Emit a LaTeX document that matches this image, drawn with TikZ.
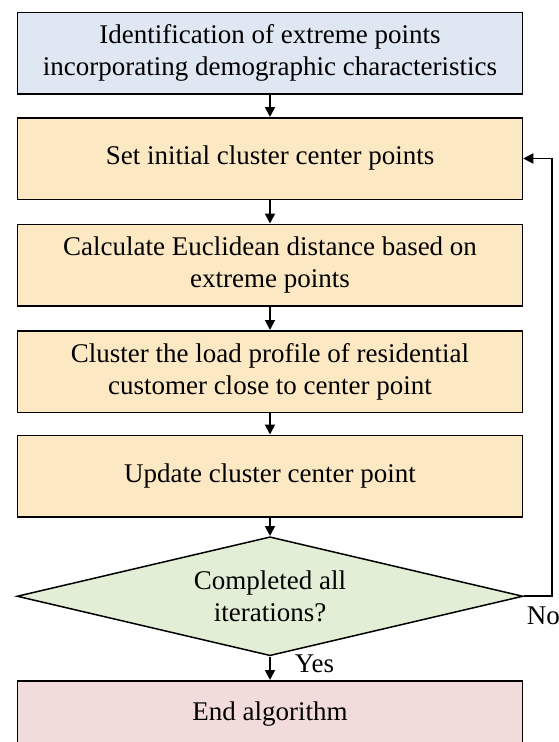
\documentclass[tikz,border=0pt]{standalone}
\usepackage{fontspec}
\setmainfont{Liberation Serif}
\usepackage{xcolor}
\usepackage{tikz}
\usetikzlibrary{arrows.meta,positioning,shapes.geometric}
\definecolor{stepblue}{HTML}{DEE7F2}
\definecolor{stepgold}{HTML}{FCE9C3}
\definecolor{checkgreen}{HTML}{E2EED6}
\definecolor{endpink}{HTML}{F2DBDB}
\tikzset{
  process/.style={draw=black, line width=1.5pt, fill=stepgold,
    align=center, minimum width=505pt, minimum height=81.5pt, inner sep=0pt},
  decision/.style={diamond, draw=black, line width=1.5pt, fill=checkgreen,
    align=center, aspect=4.2, inner sep=0pt, minimum width=506pt, minimum height=119pt},
  flow/.style={-{Triangle[length=10pt,width=10pt]}, line width=1.8pt, draw=black}
}
\begin{document}
\begin{tikzpicture}[node distance=22.5pt, font=\fontsize{27}{32}\selectfont]
        \useasboundingbox (0,0) rectangle (558pt,-742pt);
        \node[process, fill=stepblue] (extreme) at (270pt,-53pt)
          {Identification of extreme points\\incorporating demographic characteristics};
        \node[process, below=of extreme] (init) {Set initial cluster center points};
        \node[process, below=23.5pt of init] (dist) {Calculate Euclidean distance based on\\extreme points};
        \node[process, below=23.5pt of dist] (assign) {Cluster the load profile of residential\\customer close to center point};
        \node[process, below=21.5pt of assign] (update) {Update cluster center point};
        \node[decision, below=18.5pt of update] (check) {Completed all\\iterations?};
        \node[process, fill=endpink, minimum height=66pt, below=23.5pt of check] (finish) {End algorithm};
        \draw[flow] (extreme) -- (init);
        \draw[flow] (init) -- (dist);
        \draw[flow] (dist) -- (assign);
        \draw[flow] (assign) -- (update);
        \draw[flow] (update) -- (check);
        \draw[flow] (check) -- node[pos=0.3, anchor=west, xshift=24pt, inner sep=0pt] (yes) {Yes} (finish);
        \coordinate[right=28pt of check.east] (turn);
        \draw[flow] (check.east) -- (turn) |- (init.east);
        \node[anchor=north west, inner sep=0pt, xshift=3pt, yshift=-10pt] (no) at (check.east) {No};
    \end{tikzpicture}
\end{document}
